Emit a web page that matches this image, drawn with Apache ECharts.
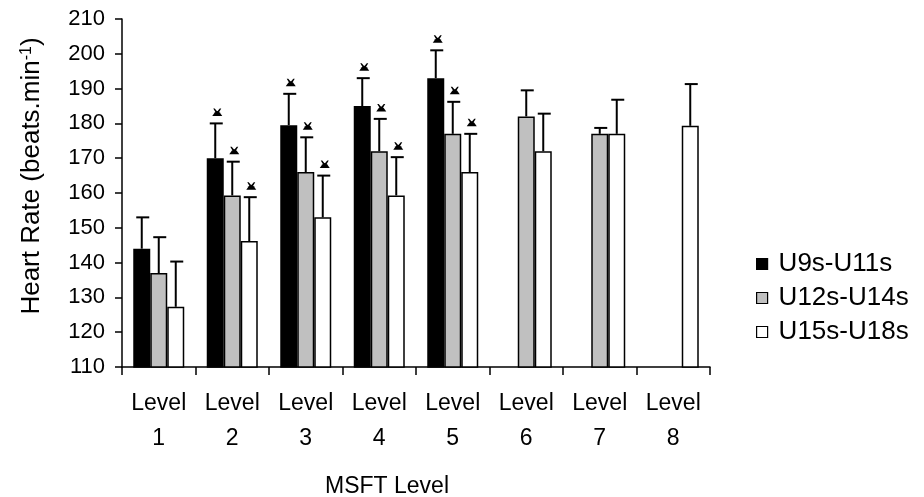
<!DOCTYPE html>
<html>
<head>
<meta charset="utf-8">
<script src="https://cdn.jsdelivr.net/npm/echarts@6/dist/echarts.min.js"></script>
<style>html,body{margin:0;padding:0;background:#fff}#chart{width:924px;height:497px}</style>
</head>
<body>
<div id="chart"></div>
<script>
// ---- data ----
var categories = ['Level\n1','Level\n2','Level\n3','Level\n4','Level\n5','Level\n6','Level\n7','Level\n8'];
var seriesNames = ['U9s-U11s','U12s-U14s','U15s-U18s'];
var u9Values  = [144, 170, 179.5, 185, 193, null, null, null];
var u9Err     = [9, 10, 9, 8, 8, null, null, null];
var u9Sig     = [0, 1, 1, 1, 1, 0, 0, 0];
var u12Values = [137, 159.3, 166, 172, 177, 182, 177, null];
var u12Err    = [10.3, 9.7, 10, 9.3, 9.2, 7.5, 1.7, null];
var u12Sig    = [0, 1, 1, 1, 1, 0, 0, 0];
var u15Values = [127.3, 146.2, 153, 159.3, 166, 172, 177, 179.3];
var u15Err    = [13, 12.6, 12, 11, 11, 10.8, 9.8, 12];
var u15Sig    = [0, 1, 1, 1, 1, 0, 0, 0];
var yTicks = {min: 110, max: 210, interval: 10};

var FONT = 'Liberation Sans, Arial, sans-serif';
var BAR_W = 17;
var fills = ['#000000', '#c0c0c0', '#ffffff'];
var groups = [
  {v: u9Values, e: u9Err, s: u9Sig},
  {v: u12Values, e: u12Err, s: u12Sig},
  {v: u15Values, e: u15Err, s: u15Sig}
];

var series = [];
groups.forEach(function (g, gi) {
  series.push({
    name: seriesNames[gi],
    type: 'bar',
    data: g.v,
    barWidth: BAR_W,
    barGap: '0%',
    itemStyle: {color: fills[gi], borderColor: '#000', borderWidth: 1.5},
    emphasis: {disabled: true},
    z: 2
  });
});
groups.forEach(function (g, gi) {
  var data = [];
  g.v.forEach(function (val, i) {
    if (val != null && g.e[i] != null) data.push([i, val, g.e[i], g.s[i]]);
  });
  series.push({
    type: 'custom',
    name: seriesNames[gi] + ' err',
    data: data,
    z: 5,
    silent: true,
    renderItem: function (params, api) {
      var i = api.value(0), v = api.value(1), e = api.value(2), sig = api.value(3);
      var base = api.coord([i, v]);
      var top = api.coord([i, v + e]);
      var x = base[0] + (gi - 1) * BAR_W;
      var ls = {stroke: '#000', lineWidth: 2};
      var children = [
        {type: 'line', shape: {x1: x, y1: base[1], x2: x, y2: top[1]}, style: ls},
        {type: 'line', shape: {x1: x - 5.5, y1: top[1], x2: x + 7.5, y2: top[1]}, style: ls}
      ];
      if (sig) {
        var mx = x + 2, my = top[1] - 11;
        children.push({type: 'polygon', shape: {points: [[mx - 5, my + 3.5], [mx + 5, my + 3.5], [mx + 2.5, my], [mx, my - 1.5], [mx - 2.5, my]]}, style: {fill: '#000'}});
        children.push({type: 'polygon', shape: {points: [[mx - 4, my - 4], [mx - 2.5, my - 4], [mx, my - 1], [mx + 2.5, my - 4], [mx + 4, my - 4], [mx + 1, my + 1], [mx - 1, my + 1]]}, style: {fill: '#000'}});
      }
      return {type: 'group', children: children};
    }
  });
});

var chart = echarts.init(document.getElementById('chart'), null, {renderer: 'canvas'});
chart.setOption({
  animation: false,
  backgroundColor: '#ffffff',
  textStyle: {fontFamily: FONT},
  grid: {left: 122, right: 214, top: 19, bottom: 130, containLabel: false},
  legend: {
    orient: 'vertical',
    left: 751,
    top: 246,
    itemWidth: 11,
    itemHeight: 11,
    itemGap: 8,
    icon: 'rect',
    data: seriesNames,
    textStyle: {fontFamily: FONT, fontSize: 26, color: '#000', padding: [0, 0, 0, 6], lineHeight: 24},
    itemStyle: {borderColor: '#000', borderWidth: 1.2},
    selectedMode: false
  },
  xAxis: {
    type: 'category',
    data: categories,
    boundaryGap: true,
    axisLine: {show: true, lineStyle: {color: '#000', width: 1.5}},
    axisTick: {show: true, interval: 0, alignWithLabel: false, length: 8, inside: false, lineStyle: {color: '#000', width: 1.5}},
    axisLabel: {interval: 0, color: '#000', fontFamily: FONT, fontSize: 23, lineHeight: 35, margin: 19},
    splitLine: {show: false}
  },
  yAxis: {
    type: 'value',
    min: yTicks.min,
    max: yTicks.max,
    interval: yTicks.interval,
    axisLine: {show: true, lineStyle: {color: '#000', width: 1.5}},
    axisTick: {show: true, length: 7, lineStyle: {color: '#000', width: 1.5}},
    axisLabel: {color: '#000', fontFamily: FONT, fontSize: 22, margin: 17},
    splitLine: {show: false}
  },
  title: {
    text: 'MSFT Level',
    left: 382,
    top: 470,
    textAlign: 'center',
    textStyle: {fontFamily: FONT, fontSize: 23, fontWeight: 'normal', color: '#000'}
  },
  graphic: [{
    type: 'text',
    x: 32,
    y: 176,
    rotation: Math.PI / 2,
    style: {
      text: 'Heart Rate (beats.min{sup|-1})',
      rich: {sup: {fontSize: 16, fontFamily: FONT, fill: '#000', verticalAlign: 'top', padding: [0, 0, 11, 0]}},
      fontFamily: FONT,
      fontSize: 26,
      fill: '#000',
      align: 'center',
      verticalAlign: 'middle'
    }
  }],
  series: series
});
</script>
</body>
</html>
